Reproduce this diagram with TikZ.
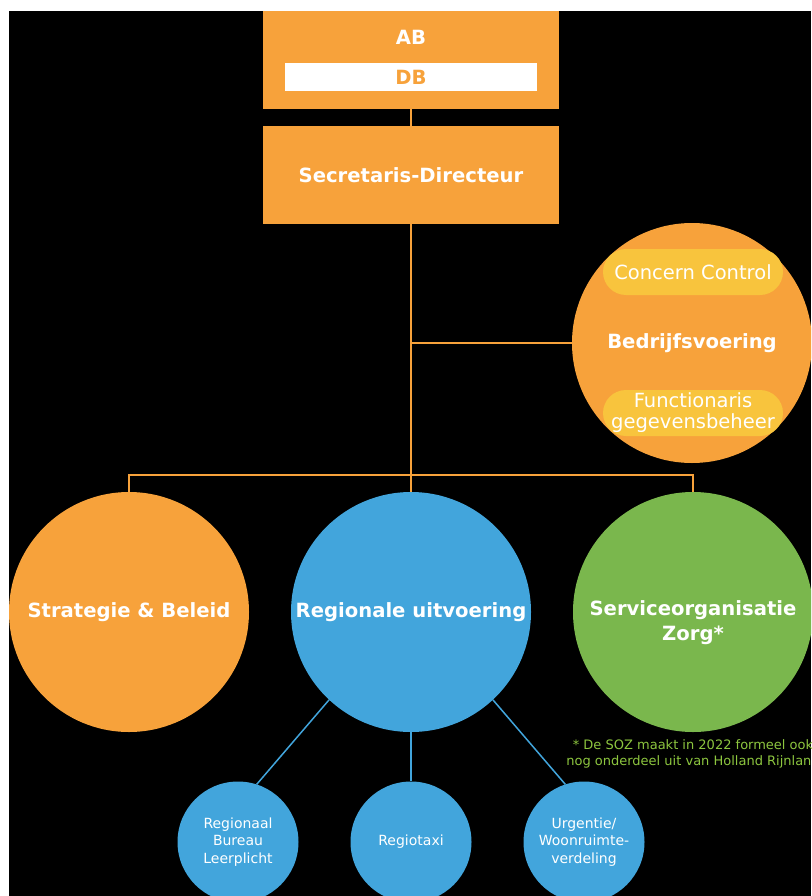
\documentclass[tikz,border=0pt]{standalone}
\usepackage{fontspec}
\setmainfont{DejaVu Sans}
\definecolor{orgorange}{HTML}{F7A23B}
\definecolor{orgblue}{HTML}{42A5DC}
\definecolor{orggreen}{HTML}{7AB74D}
\definecolor{orgyellow}{HTML}{F8C43D}
\definecolor{orgnote}{HTML}{8DC63F}
\begin{document}
\begin{tikzpicture}[x=1pt, y=-1pt,
  box/.style={shape=rectangle, fill=orgorange, minimum width=296pt, minimum height=98pt, inner sep=0pt},
  boldtext/.style={text=white, font=\bfseries\fontsize{19.6}{25}\selectfont, align=center},
  bigcircle/.style={shape=circle, minimum size=240pt, inner sep=0pt, boldtext},
  subcircle/.style={shape=circle, fill=orgblue, minimum size=121pt, inner sep=0pt, text=white, align=center, font=\fontsize{14}{17.5}\selectfont},
  pill/.style={shape=rectangle, rounded corners=23pt, fill=orgyellow, minimum width=180pt, minimum height=46pt, inner sep=0pt, text=white, align=center, font=\fontsize{19.5}{24}\selectfont},
  link/.style={draw=orgorange, line width=2.4pt},
  sublink/.style={draw=orgblue, line width=1.5pt}]
\useasboundingbox (0,0) rectangle (811,896);
\clip (0,0) rectangle (811,896);
\fill[white] (0,0) rectangle (811,896);
\fill[black] (9,11) rectangle (811,896);

% top of the organisation
\node[box] (ab) at (411,60) {};
\node[boldtext] (abtext) at (411,37) {AB};
\node[shape=rectangle, fill=white, minimum width=252pt, minimum height=28pt, inner sep=0pt, text=orgorange, font=\bfseries\fontsize{19.6}{25}\selectfont] (db) at (411,77) {DB};
\node[box, boldtext] (sd) at (411,175) {Secretaris-Directeur};

% bedrijfsvoering
\node[bigcircle, fill=orgorange] (bv) at (692,343) {Bedrijfsvoering};
\node[pill] (cc) at (693,272) {Concern Control};
\node[pill] (fg) at (693,413) {Functionaris\\[-3pt]gegevensbeheer};

% afdelingen
\node[bigcircle, fill=orgorange] (sb) at (129,612) {Strategie \& Beleid};
\node[bigcircle, fill=orgblue] (ru) at (411,612) {Regionale uitvoering};
\node[bigcircle, fill=orggreen, label={[boldtext, yshift=-11pt]center:{Serviceorganisatie\\Zorg*}}] (soz) at (693,612) {};
\node[text=orgnote, align=center, font=\fontsize{13}{16}\selectfont] (note) at (693,754) {* De SOZ maakt in 2022 formeel ook\\nog onderdeel uit van Holland Rijnland};

% teams
\node[subcircle] (rbl) at (238,842) {Regionaal\\Bureau\\Leerplicht};
\node[subcircle] (rt) at (411,842) {Regiotaxi};
\node[subcircle] (uw) at (584,842) {Urgentie/\\Woonruimte-\\verdeling};

% lijnen
\coordinate (bus) at (411,475);
\draw[link] (ab.south) -- (sd.north);
\draw[link] (sd.south) -- (bus);
\draw[link] (sd.south |- bv.west) -- (bv.west);
\draw[link] (bus) -| (sb.north);
\draw[link] (bus) -| (soz.north);
\draw[link] (bus) -- (ru.north);
\draw[sublink] (ru.-133) -- (rbl.72);
\draw[sublink] (ru.south) -- (rt.north);
\draw[sublink] (ru.-47) -- (uw.108);
\end{tikzpicture}
\end{document}
